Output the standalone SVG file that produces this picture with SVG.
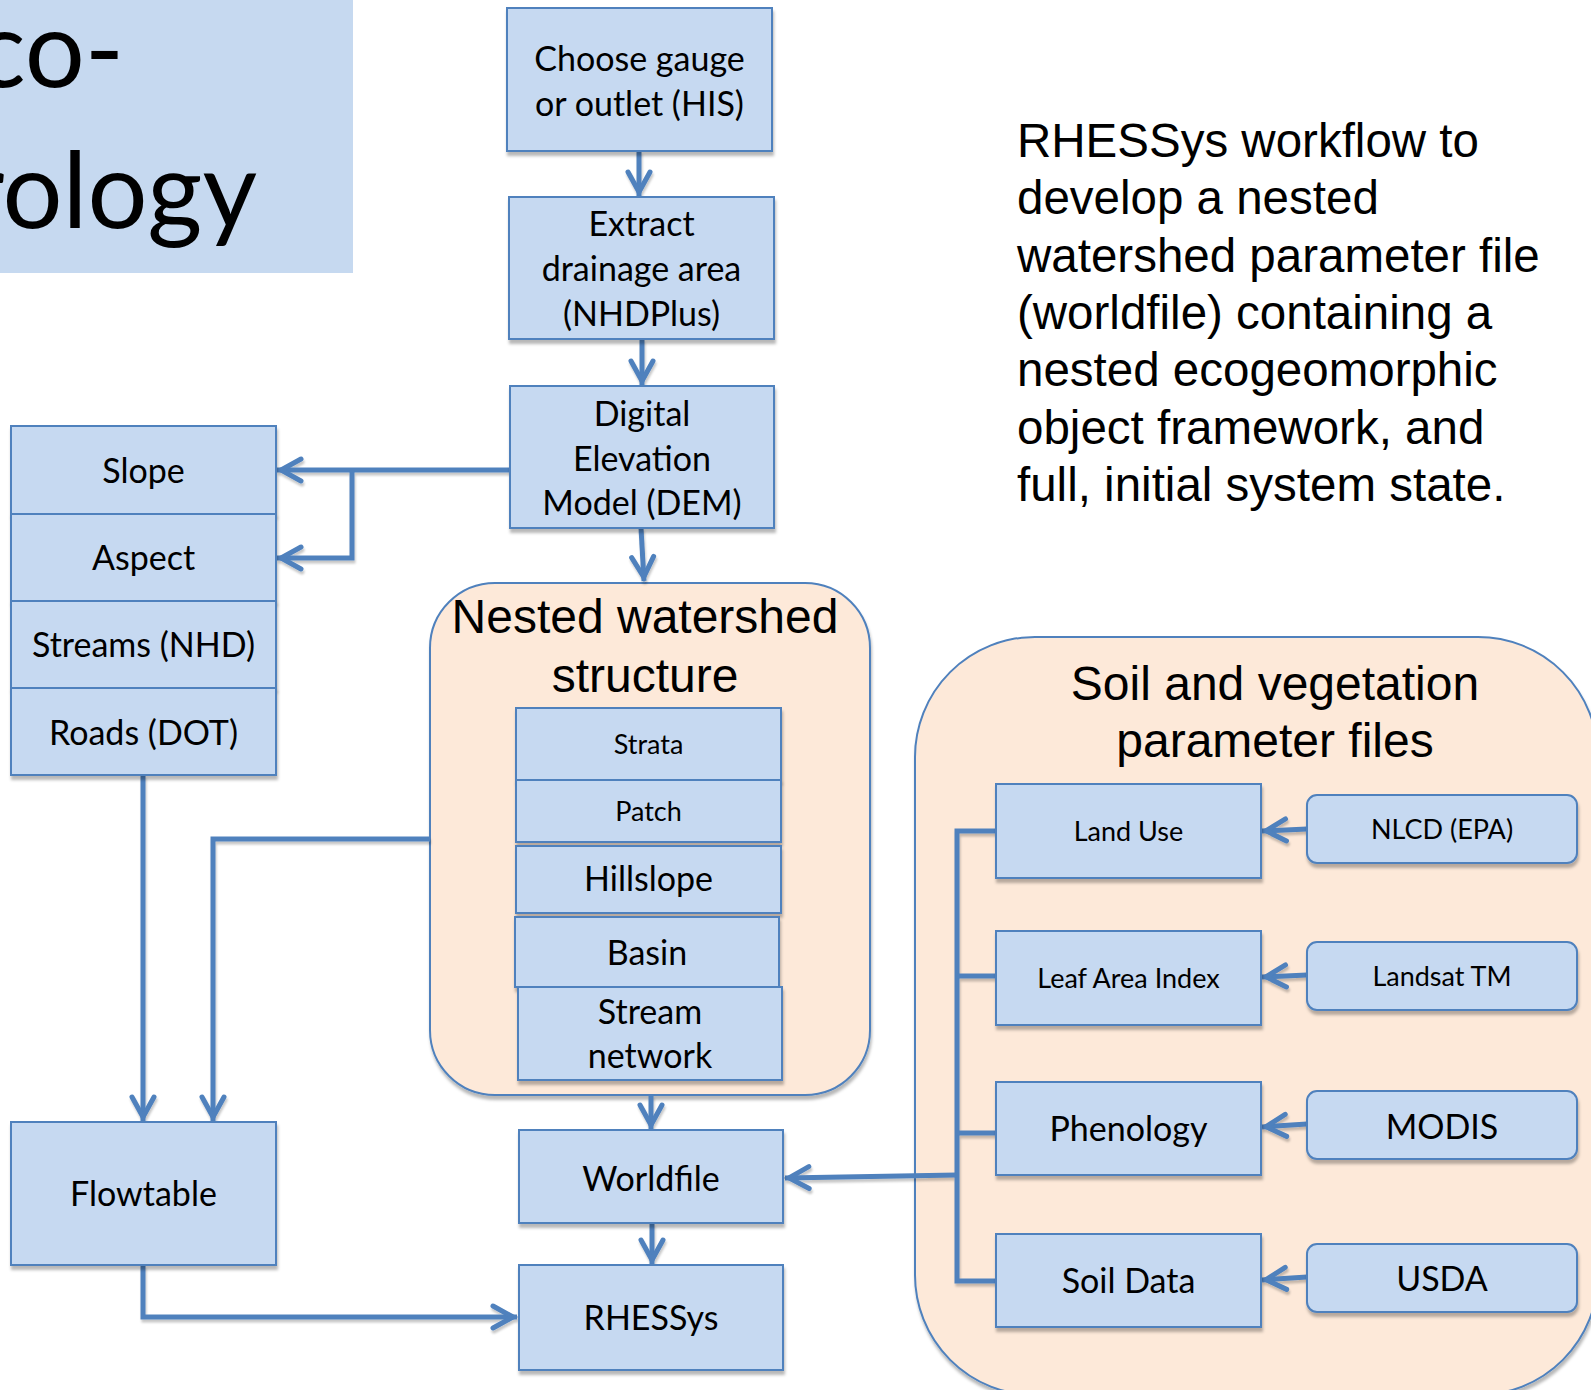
<svg xmlns="http://www.w3.org/2000/svg" width="1591" height="1390" viewBox="0 0 1591 1390">
<defs>
<filter id="sh" x="-5%" y="-5%" width="115%" height="125%">
<feDropShadow dx="1" dy="4" stdDeviation="1.5" flood-color="#000" flood-opacity="0.28"/>
</filter>
<filter id="shl" x="-5%" y="-5%" width="115%" height="115%">
<feDropShadow dx="1" dy="3" stdDeviation="1.2" flood-color="#000" flood-opacity="0.22"/>
</filter>
<marker id="ar" markerUnits="userSpaceOnUse" markerWidth="40" markerHeight="40" viewBox="-30 -20 40 40" refX="4" refY="0" orient="auto">
<path d="M-20,-11 L0,0 L-20,11" fill="none" stroke="#4f81bd" stroke-width="5" stroke-linecap="round" stroke-linejoin="miter"/>
</marker>
<style>
.box{fill:#c6d9f1;stroke:#4f81bd;stroke-width:2}
.cont{fill:#fde9d9;stroke:#4f81bd;stroke-width:2}
.c{fill:none;stroke:#4f81bd;stroke-width:5}
.t{font-family:Lato,"Open Sans",sans-serif;fill:#000;text-anchor:middle;font-size:34px}
.s{font-size:27px}
.a{font-family:"Liberation Sans",Arial,sans-serif;fill:#000;font-size:47.5px}
.h{font-size:48px}
.m{text-anchor:middle}
</style>
</defs>
<rect width="1591" height="1390" fill="#fff"/>

<g id="title">
<rect x="0" y="0" width="353" height="273" fill="#c6d9f0"/>
<text x="-25" y="87" font-family="Lato,'Open Sans',sans-serif" font-size="106" fill="#000">co-</text>
<text x="-34" y="228" font-family="Lato,'Open Sans',sans-serif" font-size="106" fill="#000">rology</text>
</g>

<g id="description" class="a">
<text x="1017" y="157">RHESSys workflow to</text>
<text x="1017" y="214">develop a nested</text>
<text x="1017" y="272">watershed parameter file</text>
<text x="1017" y="329">(worldfile) containing a</text>
<text x="1017" y="386">nested ecogeomorphic</text>
<text x="1017" y="444">object framework, and</text>
<text x="1017" y="501">full, initial system state.</text>
</g>

<g id="nested-container">
<rect class="cont" x="430" y="583" width="440" height="512" rx="65" filter="url(#sh)"/>
<text class="a h m" x="645" y="633">Nested watershed</text>
<text class="a h m" x="645" y="692">structure</text>
</g>

<g id="soil-container">
<rect class="cont" x="915" y="637" width="683" height="758" rx="120" filter="url(#sh)"/>
<text class="a h m" x="1275" y="700">Soil and vegetation</text>
<text class="a h m" x="1275" y="757">parameter files</text>
</g>

<g id="connectors" filter="url(#shl)">
<path class="c" d="M639,151 L639,196" marker-end="url(#ar)"/>
<path class="c" d="M642,339 L642,385" marker-end="url(#ar)"/>
<path class="c" d="M510,470 L277,470" marker-end="url(#ar)"/>
<path class="c" d="M352,470 L352,558 L277,558" marker-end="url(#ar)"/>
<path class="c" d="M641,528 L644,581" marker-end="url(#ar)"/>
<path class="c" d="M143,775 L143,1121" marker-end="url(#ar)"/>
<path class="c" d="M430,839 L213,839 L213,1121" marker-end="url(#ar)"/>
<path class="c" d="M143,1265 L143,1317 L517,1317" marker-end="url(#ar)"/>
<path class="c" d="M651,1095 L651,1129" marker-end="url(#ar)"/>
<path class="c" d="M652,1223 L652,1264" marker-end="url(#ar)"/>
<path class="c" d="M996,831 L957,831 L957,1281 L996,1281"/>
<path class="c" d="M957,976 L996,976"/>
<path class="c" d="M957,1133 L996,1133"/>
<path class="c" d="M957,1175 L785,1178" marker-end="url(#ar)"/>
<path class="c" d="M1307,829 L1262,831" marker-end="url(#ar)"/>
<path class="c" d="M1307,975 L1262,977" marker-end="url(#ar)"/>
<path class="c" d="M1307,1124 L1262,1127" marker-end="url(#ar)"/>
<path class="c" d="M1307,1277 L1262,1280" marker-end="url(#ar)"/>
</g>

<g id="choose-gauge">
<rect class="box" x="507" y="8" width="265" height="143" filter="url(#sh)"/>
<text class="t" x="639.5" y="71">Choose gauge</text>
<text class="t" x="639.5" y="116">or outlet (HIS)</text>
</g>
<g id="extract-drainage">
<rect class="box" x="509" y="197" width="265" height="142" filter="url(#sh)"/>
<text class="t" x="641.5" y="236">Extract</text>
<text class="t" x="641.5" y="281">drainage area</text>
<text class="t" x="641.5" y="326">(NHDPlus)</text>
</g>
<g id="dem">
<rect class="box" x="510" y="386" width="264" height="142" filter="url(#sh)"/>
<text class="t" x="642" y="426">Digital</text>
<text class="t" x="642" y="471">Elevation</text>
<text class="t" x="642" y="515">Model (DEM)</text>
</g>

<g id="slope">
<rect class="box" x="11" y="426" width="265" height="88" filter="url(#sh)"/>
<text class="t" x="143.5" y="483">Slope</text>
</g>
<g id="aspect">
<rect class="box" x="11" y="514" width="265" height="87" filter="url(#sh)"/>
<text class="t" x="143.5" y="570">Aspect</text>
</g>
<g id="streams">
<rect class="box" x="11" y="601" width="265" height="87" filter="url(#sh)"/>
<text class="t" x="143.5" y="657">Streams (NHD)</text>
</g>
<g id="roads">
<rect class="box" x="11" y="688" width="265" height="87" filter="url(#sh)"/>
<text class="t" x="143.5" y="745">Roads (DOT)</text>
</g>

<g id="strata">
<rect class="box" x="516" y="708" width="265" height="72" filter="url(#sh)"/>
<text class="t s" x="648.5" y="754">Strata</text>
</g>
<g id="patch">
<rect class="box" x="516" y="780" width="265" height="62" filter="url(#sh)"/>
<text class="t s" x="648.5" y="821">Patch</text>
</g>
<g id="hillslope">
<rect class="box" x="516" y="846" width="265" height="67" filter="url(#sh)"/>
<text class="t" x="648.5" y="891">Hillslope</text>
</g>
<g id="basin">
<rect class="box" x="515" y="917" width="264" height="70" filter="url(#sh)"/>
<text class="t" x="647" y="965">Basin</text>
</g>
<g id="stream-network">
<rect class="box" x="518" y="987" width="264" height="93" filter="url(#sh)"/>
<text class="t" x="650" y="1024">Stream</text>
<text class="t" x="650" y="1068">network</text>
</g>

<g id="flowtable">
<rect class="box" x="11" y="1122" width="265" height="143" filter="url(#sh)"/>
<text class="t" x="143.5" y="1206">Flowtable</text>
</g>
<g id="worldfile">
<rect class="box" x="519" y="1130" width="264" height="93" filter="url(#sh)"/>
<text class="t" x="651" y="1191">Worldfile</text>
</g>
<g id="rhessys">
<rect class="box" x="519" y="1265" width="264" height="105" filter="url(#sh)"/>
<text class="t" x="651" y="1330">RHESSys</text>
</g>

<g id="land-use">
<rect class="box" x="996" y="784" width="265" height="94" filter="url(#sh)"/>
<text class="t s" x="1128.5" y="841">Land Use</text>
</g>
<g id="leaf-area-index">
<rect class="box" x="996" y="931" width="265" height="94" filter="url(#sh)"/>
<text class="t s" x="1128.5" y="988">Leaf Area Index</text>
</g>
<g id="phenology">
<rect class="box" x="996" y="1082" width="265" height="93" filter="url(#sh)"/>
<text class="t" x="1128.5" y="1141">Phenology</text>
</g>
<g id="soil-data">
<rect class="box" x="996" y="1234" width="265" height="93" filter="url(#sh)"/>
<text class="t" x="1128.5" y="1293">Soil Data</text>
</g>

<g id="nlcd">
<rect class="box" x="1307" y="795" width="270" height="68" rx="10" filter="url(#sh)"/>
<text class="t s" x="1442" y="839">NLCD (EPA)</text>
</g>
<g id="landsat">
<rect class="box" x="1307" y="942" width="270" height="68" rx="10" filter="url(#sh)"/>
<text class="t s" x="1442" y="986">Landsat TM</text>
</g>
<g id="modis">
<rect class="box" x="1307" y="1091" width="270" height="68" rx="10" filter="url(#sh)"/>
<text class="t" x="1442" y="1139">MODIS</text>
</g>
<g id="usda">
<rect class="box" x="1307" y="1244" width="270" height="68" rx="10" filter="url(#sh)"/>
<text class="t" x="1442" y="1291">USDA</text>
</g>
</svg>
